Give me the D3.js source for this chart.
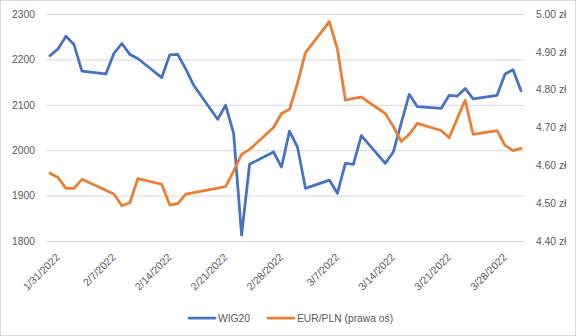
<!DOCTYPE html>
<html><head><meta charset="utf-8">
<script src="https://cdn.jsdelivr.net/npm/d3@7"></script>
<style>
html,body{margin:0;padding:0;background:#fff;}
svg{display:block;font-family:"Liberation Sans",Arial,sans-serif;}
</style></head>
<body>
<svg id="c" width="576" height="336"></svg>
<script>
const dates = ["2022-01-31","2022-02-01","2022-02-02","2022-02-03","2022-02-04",
"2022-02-07","2022-02-08","2022-02-09","2022-02-10","2022-02-11",
"2022-02-14","2022-02-15","2022-02-16","2022-02-17","2022-02-18",
"2022-02-21","2022-02-22","2022-02-23","2022-02-24","2022-02-25",
"2022-02-28","2022-03-01","2022-03-02","2022-03-03","2022-03-04",
"2022-03-07","2022-03-08","2022-03-09","2022-03-10","2022-03-11",
"2022-03-14","2022-03-15","2022-03-16","2022-03-17","2022-03-18",
"2022-03-21","2022-03-22","2022-03-23","2022-03-24","2022-03-25",
"2022-03-28","2022-03-29","2022-03-30","2022-03-31"];
const wig20 = [2208,2223,2251,2233,2174,
2168,2213,2235,2211,2202,
2160,2210,2211,2179,2143,
2068,2099,2037,1813,1969,
1996,1963,2042,2007,1916,
1934,1905,1971,1969,2032,
1971,1996,2060,2123,2096,
2092,2121,2119,2136,2113,
2121,2168,2177,2131];
const eurpln = [4.579,4.568,4.539,4.539,4.563,
4.534,4.524,4.493,4.501,4.565,
4.550,4.495,4.499,4.524,4.528,
4.540,4.544,4.585,4.629,4.642,
4.700,4.737,4.748,4.817,4.898,
4.980,4.907,4.772,4.777,4.780,
4.737,4.703,4.663,4.682,4.711,
4.692,4.673,4.723,4.772,4.682,
4.692,4.653,4.639,4.645];
const xTicks = ["2022-01-31","2022-02-07","2022-02-14","2022-02-21","2022-02-28","2022-03-07","2022-03-14","2022-03-21","2022-03-28"];
const leftTicks = [1800,1900,2000,2100,2200,2300];
const rightTicks = [4.40,4.50,4.60,4.70,4.80,4.90,5.00];
const seriesNames = ["WIG20","EUR/PLN (prawa oś)"];
const colors = ["#4472C4","#ED7D31"];

const parse = d3.utcParse("%Y-%m-%d");
const fmt = d3.utcFormat("%-m/%-d/%Y");
const DAY = 864e5;
const svg = d3.select("#c");

svg.append("rect").attr("x",0.5).attr("y",0.5).attr("width",575).attr("height",335)
  .attr("fill","#fff").attr("stroke","#d9d9d9");

const L=46, R=525, T=14, B=241;
const x = d3.scaleUtc()
  .domain([new Date(parse(dates[0]).getTime()-DAY/2), new Date(parse(dates[dates.length-1]).getTime()+DAY/2)])
  .range([L,R]);
const yL = d3.scaleLinear().domain([1800,2300]).range([B,T]);
const yR = d3.scaleLinear().domain([4.40,5.00]).range([B,T]);

const gL = svg.append("g").attr("transform",`translate(${L},0)`)
  .call(d3.axisLeft(yL).tickValues(leftTicks).tickSize(-(R-L-1)).tickFormat(d3.format("d")).tickPadding(11));
gL.select(".domain").remove();
gL.selectAll(".tick line").attr("stroke","#d9d9d9").attr("stroke-width",1);
gL.selectAll(".tick text").attr("fill","#595959").attr("font-size","10.3px")
  .attr("font-family","'Liberation Sans',Arial,sans-serif");

const gR = svg.append("g").attr("transform",`translate(${R},0)`)
  .call(d3.axisRight(yR).tickValues(rightTicks).tickSize(0).tickPadding(11)
    .tickFormat(d => d3.format(".2f")(d) + " zł"));
gR.select(".domain").remove();
gR.selectAll(".tick text").attr("fill","#595959").attr("font-size","10.3px")
  .attr("font-family","'Liberation Sans',Arial,sans-serif");

const gX = svg.append("g").attr("transform",`translate(0,${B})`)
  .call(d3.axisBottom(x).tickValues(xTicks.map(parse)).tickSize(0).tickFormat(fmt));
gX.select(".domain").remove();
gX.selectAll(".tick text")
  .attr("fill","#595959").attr("font-size","10.5px")
  .attr("font-family","'Liberation Sans',Arial,sans-serif")
  .attr("text-anchor","end").attr("dy",null).attr("y",null)
  .attr("transform","translate(8,15) rotate(-45)")
  .attr("dominant-baseline","middle");

const pts1 = dates.map((d,i)=>[parse(d), wig20[i]]);
const pts2 = dates.map((d,i)=>[parse(d), eurpln[i]]);
const line1 = d3.line().x(d=>x(d[0])).y(d=>yL(d[1]));
const line2 = d3.line().x(d=>x(d[0])).y(d=>yR(d[1]));
svg.append("path").attr("d",line1(pts1)).attr("fill","none").attr("stroke",colors[0])
  .attr("stroke-width",2.75).attr("stroke-linejoin","round").attr("stroke-linecap","round");
svg.append("path").attr("d",line2(pts2)).attr("fill","none").attr("stroke",colors[1])
  .attr("stroke-width",2.75).attr("stroke-linejoin","round").attr("stroke-linecap","round");

const ly = 318;
const leg = [{x0:189,x1:215,tx:218},{x0:268,x1:294,tx:297}];
leg.forEach((l,i)=>{
  svg.append("line").attr("x1",l.x0).attr("x2",l.x1).attr("y1",ly).attr("y2",ly)
    .attr("stroke",colors[i]).attr("stroke-width",2.75).attr("stroke-linecap","round");
  svg.append("text").attr("x",l.tx).attr("y",ly).attr("dominant-baseline","central")
    .attr("fill","#595959").attr("font-size","10.3px").text(seriesNames[i]);
});
</script>
</body></html>
